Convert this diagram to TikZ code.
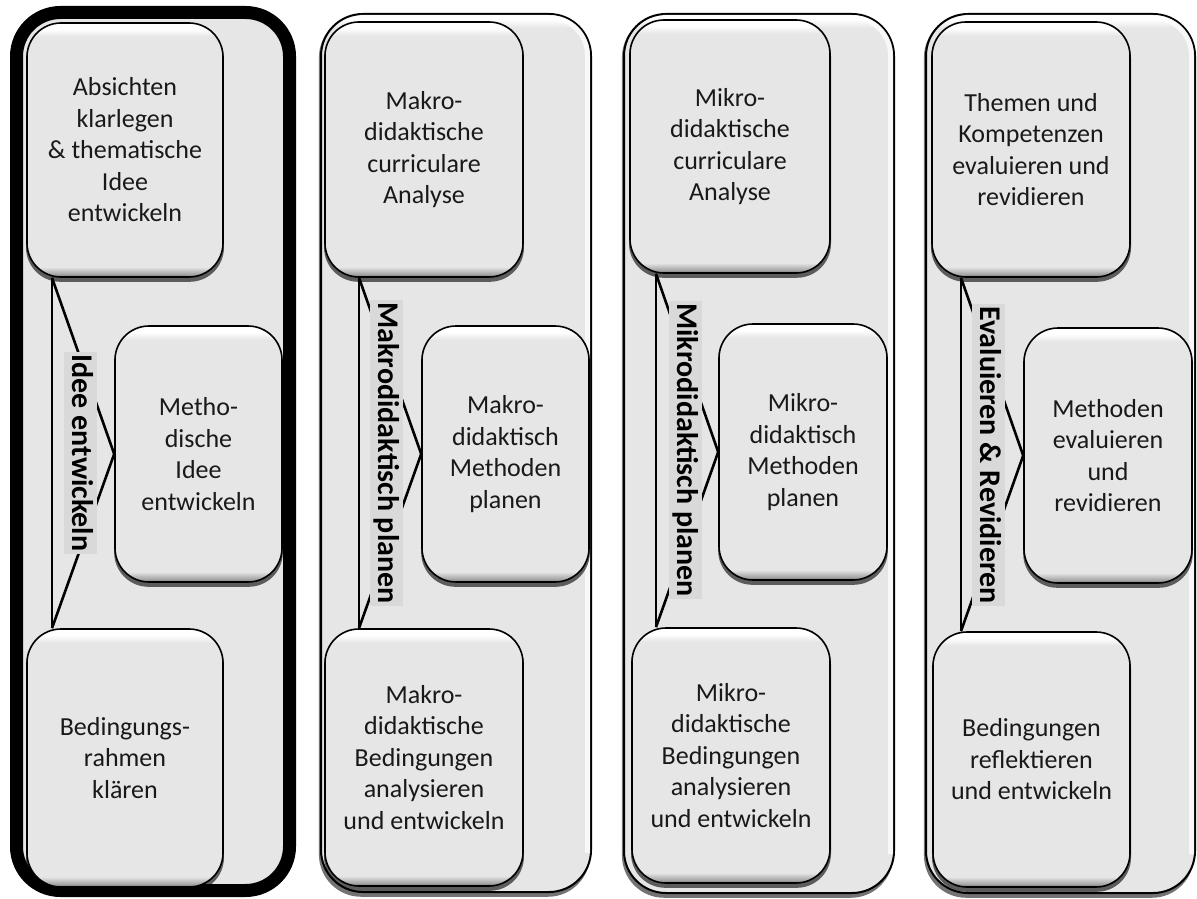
\documentclass[tikz,border=0pt]{standalone}
\usepackage{fontspec}
\setmainfont{Carlito}
\usetikzlibrary{shadows}
\definecolor{boxfill}{RGB}{230,230,230}
\definecolor{labelfill}{RGB}{217,217,217}
\pgfdeclareverticalshading{boxbevel}{100bp}{color(0bp)=(black!55); color(25bp)=(black!55); color(25.6bp)=(black!35); color(27bp)=(boxfill); color(72.3bp)=(boxfill); color(73.8bp)=(white); color(75bp)=(white); color(100bp)=(white)}
\pgfdeclareverticalshading{panelbevel}{100bp}{color(0bp)=(boxfill); color(25bp)=(boxfill); color(74.2bp)=(boxfill); color(74.7bp)=(white); color(75bp)=(white); color(100bp)=(white)}
\tikzset{
  stepbox/.style={draw=black, line width=1.6pt, rounded corners=34pt, shade, shading=boxbevel,
    align=center, font=\fontsize{26}{31.5}\selectfont, inner sep=0pt, text=black!90,
    drop shadow={shadow xshift=0pt, shadow yshift=-3.5pt, shadow scale=1.01, opacity=.6, fill=black}},
  panelbox/.style={draw=black, line width=2pt, rounded corners=42pt, shade, shading=panelbevel, inner sep=0pt,
    drop shadow={shadow xshift=-1.5pt, shadow yshift=-3pt, shadow scale=1.004, opacity=.55, fill=black}},
  thickpanel/.style={draw=black, line width=13pt, rounded corners=44pt, fill=boxfill, inner sep=0pt},
  glare/.style={draw=white, line width=5pt, rounded corners=38pt, opacity=.75},
  bracket/.style={draw=black, line width=2.6pt, line join=miter},
  lab/.style={fill=labelfill, font=\bfseries\fontsize{30}{32}\selectfont, inner xsep=2.5pt, inner ysep=3pt,
    text height=21pt, text depth=6pt, rotate=-90}
}
\begin{document}
\begin{tikzpicture}[x=1pt,y=-1pt]
\useasboundingbox (0,0) rectangle (1197,899);
% panels
\node[thickpanel, minimum width=273pt, minimum height=878pt] (p1) at (153,451.5) {};
\node[panelbox, minimum width=270pt, minimum height=878pt] (p2) at (456,453) {};
\node[panelbox, minimum width=270pt, minimum height=879pt] (p3) at (759,453.5) {};
\node[panelbox, minimum width=269pt, minimum height=879pt] (p4) at (1060.5,453.5) {};
\foreach \p in {p2,p3,p4}{
  \draw[glare] ([xshift=40pt,yshift=-4.5pt]\p.north west) -- ([xshift=-4.5pt,yshift=-4.5pt]\p.north east) -- ([xshift=-4.5pt,yshift=40pt]\p.south east);
}
% panel 1
\node[stepbox, minimum width=196pt, minimum height=254pt] (t1) at (125,150) {Absichten\\klarlegen\\\& thematische\\Idee\\entwickeln};
\node[stepbox, minimum width=167pt, minimum height=256pt] (m1) at (198.5,454) {Metho-\\dische\\Idee\\entwickeln};
\node[stepbox, minimum width=196pt, minimum height=258pt] (b1) at (125,758) {Bedingungs-\\rahmen\\kl\"aren};
% panel 2
\node[stepbox, minimum width=198pt, minimum height=255pt] (t2) at (424,149.5) {Makro-\\didaktische\\curriculare\\Analyse};
\node[stepbox, minimum width=167pt, minimum height=256pt] (m2) at (505.5,454) {Makro-\\didaktisch\\Methoden\\planen};
\node[stepbox, minimum width=198pt, minimum height=257pt] (b2) at (424,757.5) {Makro-\\didaktische\\Bedingungen\\analysieren\\und entwickeln};
% panel 3
\node[stepbox, minimum width=200pt, minimum height=253pt] (t3) at (730,146.5) {Mikro-\\didaktische\\curriculare\\Analyse};
\node[stepbox, minimum width=168pt, minimum height=256pt] (m3) at (803,452) {Mikro-\\didaktisch\\Methoden\\planen};
\node[stepbox, minimum width=198pt, minimum height=255pt] (b3) at (731,755.5) {Mikro-\\didaktische\\Bedingungen\\analysieren\\und entwickeln};
% panel 4
\node[stepbox, minimum width=198pt, minimum height=255pt] (t4) at (1031,149.5) {Themen und\\Kompetenzen\\evaluieren und\\revidieren};
\node[stepbox, minimum width=168pt, minimum height=255pt] (m4) at (1108,455.5) {Methoden\\evaluieren\\und\\revidieren};
\node[stepbox, minimum width=197pt, minimum height=255pt] (b4) at (1031.5,759.5) {Bedingungen\\reflektieren\\und entwickeln};
% bracket x positions
\coordinate (v1) at (52,0);
\coordinate (v2) at (359,0);
\coordinate (v3) at (656,0);
\coordinate (v4) at (961,0);
% brackets
\foreach \i in {1,2,3,4}{
  \draw[bracket] (t\i.south -| v\i) -- (b\i.north -| v\i);
  \draw[bracket] (t\i.south -| v\i) -- (m\i.west) -- (b\i.north -| v\i);
}
% labels
\node[lab] (l1) at (80,453) {Idee entwickeln};
\node[lab] (l2) at (386,453) {Makrodidaktisch planen};
\node[lab] (l3) at (685,450) {Mikrodidaktisch planen};
\node[lab] (l4) at (988,455) {Evaluieren \& Revidieren};
\end{tikzpicture}
\end{document}
